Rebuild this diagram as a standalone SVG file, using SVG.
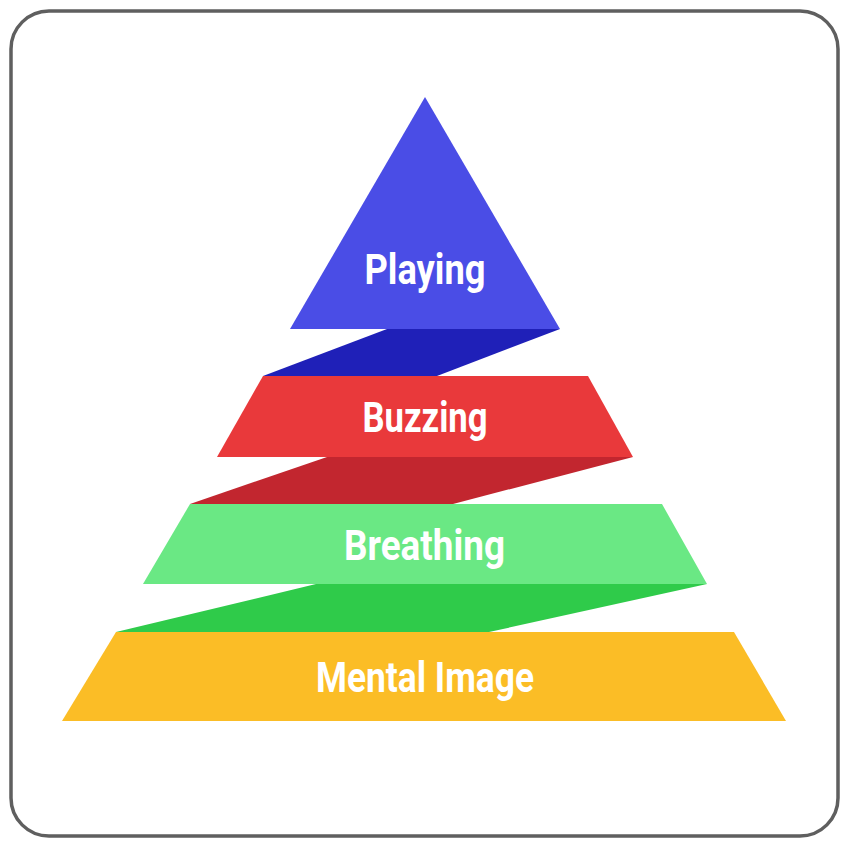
<svg xmlns="http://www.w3.org/2000/svg" width="850" height="850" viewBox="0 0 850 850">
<style>
.lbl{font-family:"Liberation Sans Narrow","Roboto","Liberation Sans",sans-serif;font-weight:700;font-size:42px;fill:#ffffff;text-anchor:middle}
</style>
<rect x="0" y="0" width="850" height="850" fill="#ffffff"/>
<rect x="11" y="11" width="827" height="825" rx="38" ry="38" fill="#ffffff" stroke="#5f5f5f" stroke-width="3.5"/>
<g id="folds">
<polygon points="387,329 560,329 437,376 263,376" fill="#1f20b8"/>
<polygon points="327,457 633,457 453,504 190,504" fill="#c2262f"/>
<polygon points="316,584 707,584 489,632 116,632" fill="#2fcb4a"/>
</g>
<g id="playing">
<polygon points="425,97 560,329 290,329" fill="#4a4de6"/>
<text class="lbl" x="425" y="284" textLength="121" lengthAdjust="spacingAndGlyphs">Playing</text>
</g>
<g id="buzzing">
<polygon points="263,376 588,376 633,457 217,457" fill="#e9393b"/>
<text class="lbl" x="425" y="432" textLength="125" lengthAdjust="spacingAndGlyphs">Buzzing</text>
</g>
<g id="breathing">
<polygon points="190,504 662,504 707,584 143,584" fill="#6ae884"/>
<text class="lbl" x="424.5" y="560" textLength="161" lengthAdjust="spacingAndGlyphs">Breathing</text>
</g>
<g id="mental">
<polygon points="116,632 734,632 786,721 62,721" fill="#fbbd26"/>
<text class="lbl" x="425" y="692" textLength="218" lengthAdjust="spacingAndGlyphs">Mental Image</text>
</g>
</svg>
